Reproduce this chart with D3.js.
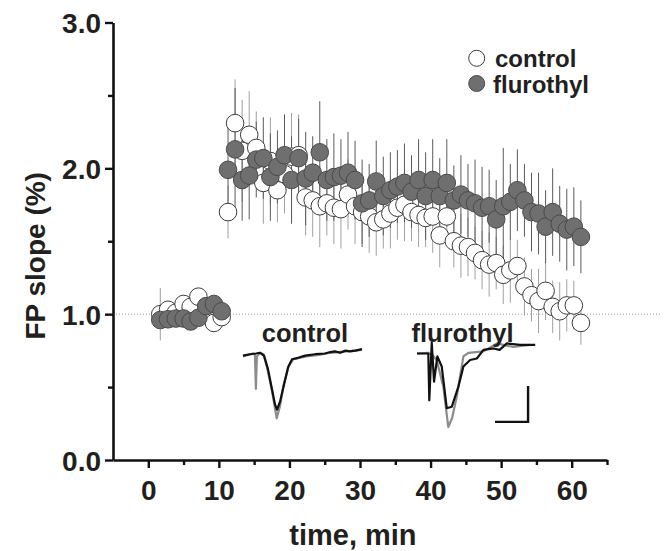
<!DOCTYPE html>
<html>
<head>
<meta charset="utf-8">
<script src="https://cdn.jsdelivr.net/npm/d3@7"></script>
<style>
  html, body { margin: 0; padding: 0; background: #fff; }
  svg { display: block; }
  text { font-family: "Liberation Sans", Arial, Helvetica, sans-serif; font-weight: bold; fill: #231f20; }
</style>
</head>
<body>
<svg id="chart" width="664" height="551"></svg>
<script>
// ---------------- data ----------------
const xTickLabels = [0, 10, 20, 30, 40, 50, 60];
const yTickLabels = [0.0, 1.0, 2.0, 3.0];
const seriesNames = ["control", "flurothyl"];

const timeBaseline = [1.7, 2.8, 3.9, 5.0, 6.0, 7.1, 8.2, 9.3, 10.4];
const controlBaseline = [1.00, 1.03, 1.01, 1.07, 1.05, 1.12, 1.02, 0.94, 0.98];
const controlBaselineErr = [0.18, 0.06, 0.05, 0.06, 0.05, 0.06, 0.05, 0.05, 0.05];
const flurothylBaseline = [0.96, 0.965, 0.97, 0.97, 0.95, 0.975, 1.055, 1.07, 1.02];
const flurothylBaselineErr = [0.04, 0.04, 0.04, 0.04, 0.05, 0.04, 0.05, 0.05, 0.04];

const timePost = [11.3, 12.3, 13.3, 14.3, 15.3, 16.3, 17.3, 18.3, 19.3, 20.3,
  21.3, 22.3, 23.3, 24.3, 25.3, 26.3, 27.3, 28.3, 29.3, 30.3,
  31.3, 32.3, 33.3, 34.3, 35.3, 36.3, 37.3, 38.3, 39.3, 40.3,
  41.3, 42.3, 43.3, 44.3, 45.3, 46.3, 47.3, 48.3, 49.3, 50.3,
  51.3, 52.3, 53.3, 54.3, 55.3, 56.3, 57.3, 58.3, 59.3, 60.3, 61.3];
const controlPost = [1.70, 2.31, 2.12, 2.23, 2.14, 1.90, 2.05, 1.85, 1.96, 2.08,
  2.09, 1.80, 1.78, 1.74, 1.76, 1.73, 1.72, 1.82, 1.74, 1.70,
  1.67, 1.63, 1.65, 1.69, 1.73, 1.75, 1.70, 1.68, 1.66, 1.67,
  1.54, 1.67, 1.50, 1.47, 1.46, 1.42, 1.37, 1.34, 1.35, 1.27,
  1.30, 1.33, 1.19, 1.13, 1.09, 1.16, 1.05, 1.02, 1.06, 1.06, 0.94];
const controlPostErr = [0.18, 0.30, 0.35, 0.30, 0.25, 0.28, 0.30, 0.22, 0.27, 0.30,
  0.28, 0.26, 0.25, 0.28, 0.22, 0.25, 0.27, 0.24, 0.26, 0.22,
  0.25, 0.23, 0.20, 0.24, 0.22, 0.25, 0.20, 0.22, 0.20, 0.25,
  0.22, 0.20, 0.18, 0.22, 0.20, 0.18, 0.20, 0.22, 0.18, 0.20,
  0.22, 0.18, 0.20, 0.18, 0.22, 0.20, 0.18, 0.20, 0.18, 0.17, 0.15];
const flurothylPost = [1.99, 2.13, 1.92, 1.95, 2.06, 2.07, 1.94, 2.01, 2.09, 1.92,
  2.07, 1.93, 1.97, 2.11, 1.92, 1.94, 1.95, 1.97, 1.92, 1.76,
  1.78, 1.91, 1.81, 1.85, 1.875, 1.90, 1.84, 1.92, 1.81, 1.92,
  1.81, 1.90, 1.78, 1.82, 1.78, 1.76, 1.73, 1.74, 1.65, 1.74,
  1.77, 1.85, 1.78, 1.70, 1.69, 1.60, 1.70, 1.62, 1.58, 1.60, 1.53];
const flurothylPostErr = [0.30, 0.42, 0.28, 0.30, 0.26, 0.28, 0.30, 0.25, 0.28, 0.30,
  0.27, 0.32, 0.25, 0.35, 0.28, 0.30, 0.25, 0.28, 0.27, 0.30,
  0.25, 0.28, 0.27, 0.26, 0.25, 0.27, 0.25, 0.28, 0.30, 0.28,
  0.26, 0.30, 0.24, 0.27, 0.25, 0.30, 0.28, 0.25, 0.27, 0.40,
  0.26, 0.28, 0.25, 0.27, 0.28, 0.25, 0.30, 0.26, 0.28, 0.27, 0.25];

// inset field-potential traces (time in ms, voltage in mV)
const ctrlGrayT = [0, 1.5, 1.8, 1.95, 2.1, 2.6, 3.1, 3.6, 4.35, 5.1, 5.6, 6.1, 6.9, 7.6, 9.6, 11.5, 13.2, 15.7, 18];
const ctrlGrayV = [-0.04, 0, -0.01, -0.49, -0.04, 0.01, -0.01, -0.18, -0.5, -0.9, -0.73, -0.45, -0.18, -0.08, -0.04, -0.02, 0.01, 0.03, 0.05];
const ctrlBlackT = [0, 1.06, 1.97, 2.58, 3.18, 3.79, 4.39, 4.85, 5.15, 5.6, 6.21, 6.82, 7.42, 8.33, 9.39, 10.9, 12.4, 13.2, 13.9, 14.7, 15.5, 16.2, 17, 18];
const ctrlBlackV = [-0.03, -0.01, 0, 0.01, -0.03, -0.22, -0.5, -0.71, -0.78, -0.67, -0.43, -0.19, -0.08, -0.06, -0.03, -0.01, 0, 0.02, 0.03, 0.01, 0.04, 0.03, 0.04, 0.06];
const fluBlackT = [0, 1.71, 1.86, 2.23, 2.58, 3.08, 3.74, 4.5, 5.26, 6.26, 7.02, 8.03, 9.05, 10.05, 11.56, 12.5, 13.59, 15.6, 17.88];
const fluBlackV = [0, 0, -0.65, 0.15, -0.39, -0.04, -0.18, -0.76, -0.74, -0.46, -0.18, -0.09, -0.07, 0.05, 0.07, 0.05, 0.14, 0.12, 0.12];
const fluGrayT = [0, 1.67, 2.42, 2.98, 3.98, 4.73, 5.3, 6.01, 7.02, 7.77, 10.05, 12.08, 14.59, 17.12];
const fluGrayV = [0, 0.01, -0.03, -0.09, -0.46, -1.02, -0.9, -0.6, -0.04, 0.01, 0.03, 0.14, 0.09, 0.12];
const scaleBarMs = 5;
const scaleBarMv = 0.5;

// ---------------- drawing ----------------
const svg = d3.select("#chart");
const x = d3.scaleLinear().domain([-5, 65]).range([113, 607]);
const y = d3.scaleLinear().domain([0, 3]).range([460, 22.5]);

// reference dotted line at 1.0
svg.append("line")
  .attr("x1", x(-5)).attr("x2", x(72.8))
  .attr("y1", y(1)).attr("y2", y(1))
  .attr("stroke", "#9a9a9a").attr("stroke-width", 1)
  .attr("stroke-dasharray", "1,2");

function makeSeries(times, vals, errs) {
  return times.map((t, i) => ({ t, v: vals[i], e: errs[i] }));
}
const ctrl = makeSeries(timeBaseline, controlBaseline, controlBaselineErr)
  .concat(makeSeries(timePost, controlPost, controlPostErr));
const flu = makeSeries(timeBaseline, flurothylBaseline, flurothylBaselineErr)
  .concat(makeSeries(timePost, flurothylPost, flurothylPostErr));

// error bars
function errBars(data, color) {
  svg.append("g").selectAll("line").data(data).join("line")
    .attr("x1", d => x(d.t)).attr("x2", d => x(d.t))
    .attr("y1", d => y(d.v + d.e)).attr("y2", d => y(d.v - d.e))
    .attr("stroke", color).attr("stroke-width", 1);
}
errBars(ctrl, "#a0a0a0");
errBars(flu, "#5a5a5a");

// markers
svg.append("g").selectAll("circle").data(ctrl).join("circle")
  .attr("cx", d => x(d.t)).attr("cy", d => y(d.v)).attr("r", 8.8)
  .attr("fill", "#fff").attr("stroke", "#3c3c3c").attr("stroke-width", 1);
svg.append("g").selectAll("circle").data(flu).join("circle")
  .attr("cx", d => x(d.t)).attr("cy", d => y(d.v)).attr("r", 8.8)
  .attr("fill", "#6f6f6f").attr("stroke", "#4a4a4a").attr("stroke-width", 1);

// axes
const axisFont = "28px";
const yAxis = svg.append("g").attr("transform", `translate(${x(-5)},0)`)
  .call(d3.axisLeft(y).tickValues(yTickLabels).tickSize(8).tickSizeOuter(0).tickPadding(4)
    .tickFormat(d3.format(".1f")));
yAxis.select(".domain").attr("stroke", "#111").attr("stroke-width", 2.6);
yAxis.selectAll(".tick line").attr("stroke", "#111").attr("stroke-width", 2.4);
yAxis.selectAll(".tick text").style("font-size", axisFont).attr("dy", "0.36em").style("fill", "#231f20");
svg.append("g").attr("transform", `translate(${x(-5)},0)`)
  .call(d3.axisLeft(y).tickValues([0.5, 1.5, 2.5]).tickSize(5).tickFormat(""))
  .call(g => g.select(".domain").remove())
  .selectAll(".tick line").attr("stroke", "#111").attr("stroke-width", 2.4);

const xAxis = svg.append("g").attr("transform", `translate(0,${y(0)})`)
  .call(d3.axisBottom(x).tickValues(xTickLabels).tickSize(8).tickSizeOuter(0).tickFormat(d3.format("d")));
xAxis.select(".domain").attr("stroke", "#111").attr("stroke-width", 2.6);
xAxis.selectAll(".tick line").attr("stroke", "#111").attr("stroke-width", 2.4);
xAxis.selectAll(".tick text").style("font-size", axisFont).attr("dy", null).attr("y", 40).style("fill", "#231f20");
svg.append("g").attr("transform", `translate(0,${y(0)})`)
  .call(d3.axisBottom(x).tickValues([5, 15, 25, 35, 45, 55, 65]).tickSize(5).tickFormat(""))
  .call(g => g.select(".domain").remove())
  .selectAll(".tick line").attr("stroke", "#111").attr("stroke-width", 2.4);

// axis titles
svg.append("text").attr("x", x(29)).attr("y", 545).attr("text-anchor", "middle")
  .style("font-size", "29px").text("time, min");
svg.append("text").attr("transform", `translate(45,${y(1.4)}) rotate(-90)`).attr("text-anchor", "middle")
  .style("font-size", "28px").text("FP slope (%)");

// legend
const legend = svg.append("g");
legend.append("circle").attr("cx", 476.7).attr("cy", 58.3).attr("r", 8)
  .attr("fill", "#fff").attr("stroke", "#3c3c3c").attr("stroke-width", 1);
legend.append("circle").attr("cx", 476.7).attr("cy", 83.5).attr("r", 8)
  .attr("fill", "#6f6f6f").attr("stroke", "#4a4a4a").attr("stroke-width", 1);
legend.append("text").attr("x", 495).attr("y", 66.5).style("font-size", "24px").text(seriesNames[0]);
legend.append("text").attr("x", 493).attr("y", 92.5).style("font-size", "24px").text(seriesNames[1]);

// inset traces
const tx1 = d3.scaleLinear().domain([0, 18]).range([243, 362]);
const tx2 = d3.scaleLinear().domain([0, 18]).range([417, 536]);
const tv = d3.scaleLinear().domain([-1, 0]).range([425.5, 353.5]);
function trace(ts, vs, sx, color, w) {
  const pts = ts.map((t, i) => [sx(t), tv(vs[i])]);
  svg.append("path").attr("d", d3.line().curve(d3.curveLinear)(pts))
    .attr("fill", "none").attr("stroke", color).attr("stroke-width", w)
    .attr("stroke-linejoin", "round");
}
trace(ctrlGrayT, ctrlGrayV, tx1, "#8c8c8c", 2.2);
trace(ctrlBlackT, ctrlBlackV, tx1, "#111", 2.2);
trace(fluGrayT, fluGrayV, tx2, "#8c8c8c", 2.2);
trace(fluBlackT, fluBlackV, tx2, "#111", 2.2);

svg.append("text").attr("x", 305).attr("y", 341.5).attr("text-anchor", "middle")
  .style("font-size", "25.5px").text(seriesNames[0]);
svg.append("text").attr("x", 462.5).attr("y", 341.5).attr("text-anchor", "middle")
  .style("font-size", "25.5px").text(seriesNames[1]);

// scale bar
const sbX = tx2(16.8), sbY = tv(-0.95);
const sbLen = tx2(scaleBarMs) - tx2(0);
const sbH = tv(0) - tv(scaleBarMv);
svg.append("path")
  .attr("d", `M${sbX - sbLen},${sbY} H${sbX} V${sbY - sbH}`)
  .attr("fill", "none").attr("stroke", "#111").attr("stroke-width", 2.4);
</script>
</body>
</html>
